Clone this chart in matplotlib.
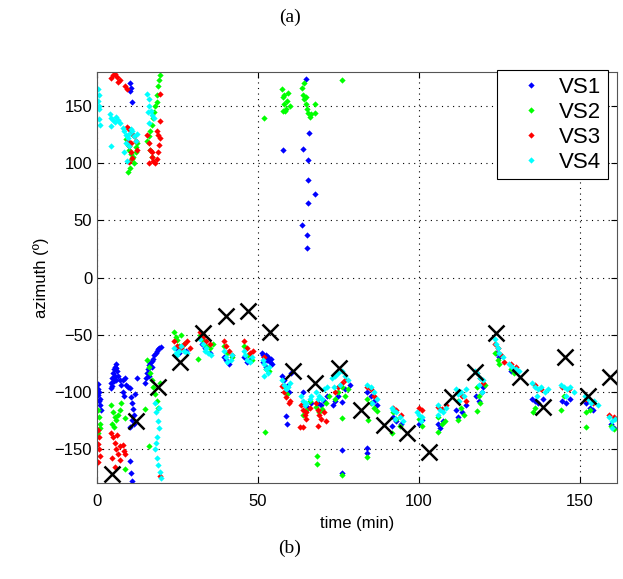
import matplotlib
matplotlib.use('Agg')
import matplotlib.pyplot as plt

plt.rcParams['font.family'] = ['Liberation Sans', 'DejaVu Sans']

# ---- data (time in min, azimuth in deg) ----
vs1_t = [10.2, 10.5, 10.4, 10.8, 57.7, 64.1, 64.9, 65.8, 65.6, 65.6, 67.7, 65.6, 63.6, 65.1, 65.1,
         0.2, 0.4, 0.3, 0.6, 0.8, 1.2, 0.5, 1.0,
         4.2, 4.5, 4.8, 5.0, 5.2, 5.5, 5.8, 6.0, 6.3, 5.6, 5.9, 6.5, 7.0, 7.4, 4.6, 5.3,
         8.2, 8.6, 9.0, 9.5, 8.0, 8.4,
         10.3, 10.6, 11.0, 11.2, 11.6, 10.8, 11.5, 10.4, 11.8, 12.3, 10.2, 10.5, 10.8,
         14.9, 15.2, 15.5, 15.9, 16.3, 16.6, 17.0, 17.4, 17.8, 18.2, 18.6, 19.0, 19.4, 19.8, 16.0, 17.2,
         24.5, 25.5, 27.5, 32.5, 33.5, 35, 40, 41, 39.5, 45.5, 46.5, 47.5,
         51.2, 51.6, 52.0, 52.4, 52.8, 53.2, 53.6, 54.0, 54.4, 51.5, 52.5,
         57.6, 58.2, 59.0, 59.6, 58.6, 58.9, 60.2,
         64, 64.5, 65.5, 66.5, 68.5, 69.5, 70.5, 71.5,
         73.2, 74, 75, 76, 76, 76, 77, 78.5,
         84, 85, 86, 87, 83.7, 83.7,
         92, 93, 94.5, 91.5, 100, 101, 105.8, 106.5, 107.5,
         111.5, 112.2, 113.5, 114.5, 117.8, 118.5, 119.5, 120,
         124, 125, 128.5, 135.2, 136, 137, 138.5, 144.5, 145.5, 146.8,
         152, 153, 154, 159.5, 160.5]
vs1_az = [170, 166, 163, 154, 112, 113, 174, 127, 103, 85, 73, 65, 46, 37, 26,
          -93, -98, -103, -108, -112, -116, -100, -106,
          -97, -92, -88, -84, -80, -78, -76, -79, -82, -86, -90, -86, -90, -94, -95, -91,
          -90, -88, -94, -96, -100, -104,
          -97, -105, -110, -115, -120, -125, -128, -131, -102, -88, -161, -171, -178,
          -92, -88, -84, -80, -77, -75, -73, -71, -68, -66, -64, -63, -62, -61, -86, -78,
          -62, -66, -64, -58, -62, -66, -72, -76, -70, -70, -74, -72,
          -66, -68, -70, -68, -72, -70, -74, -71, -76, -74, -78,
          -86, -90, -95, -100, -121, -128, -84,
          -100, -112, -114, -110, -110, -112, -108, -104,
          -112, -108, -104, -109, -151, -171, -98, -94,
          -100, -104, -108, -112, -149, -154,
          -122, -126, -128, -130, -128, -125, -128, -132, -126,
          -116, -122, -118, -112, -104, -108, -100, -96,
          -66, -70, -82, -106, -108, -110, -106, -108, -110, -106,
          -110, -114, -116, -128, -132]

vs2_t = [9.0, 9.5, 10, 10.5, 11, 11.5, 12, 12.3, 10.2, 9.6, 11.2, 12.2,
         15.5, 16, 16.5, 17, 17.5, 18, 18.5, 18.8, 19.2, 19.5, 16.5, 17, 18.6, 17.8,
         51.9,
         57.3, 57.8, 58.2, 58.6, 59, 59.4, 58.5, 57.8, 59.8, 58,
         63.6, 64, 64.4, 64.8, 65.2, 65.6, 66, 66.4, 65, 64.2, 67.7, 67.7, 76,
         0.3, 0.5, 0.8, 1.0, 0.4,
         4.5, 5, 5.5, 6, 6.5, 7, 4.8, 5.2, 7.5, 8.7, 8.7,
         15.4, 16, 16.5, 17, 17.5, 18, 18.5, 19, 19.6, 16, 15,
         24, 24.5, 25, 26, 27, 25.5, 31.5,
         32, 33, 34, 35, 36, 39.5, 40.5, 42, 45.5, 47, 48,
         52.5, 53.5, 52.2, 58, 59, 64, 65, 66,
         68, 69, 70, 71, 72, 68.2, 68.2,
         74, 75, 76, 77, 78, 76, 76,
         84, 85, 86, 87, 84.3, 83.7,
         92, 93, 94, 91.5, 100, 101,
         106, 107, 108, 105.8, 112, 113, 114, 112,
         118, 118.5, 119, 118, 120.5, 123.5, 124.5, 125, 128.5, 129.5,
         136, 135.5, 145, 144.2, 152, 151.9, 153, 159.5, 160.5]
vs2_az = [121, 116, 112, 108, 104, 100, 110, 118, 96, 92, 106, 114,
          120, 124, 128, 134, 140, 150, 160, 168, 173, 177, 112, 106, 154, 145,
          140,
          165, 158, 152, 148, 155, 162, 146, 146, 150, 160,
          166, 160, 156, 152, 148, 144, 141, 143, 158, 170, 152, 144, 173,
          -116, -122, -128, -132, -136,
          -112, -118, -122, -125, -120, -116, -128, -131, -110, -123, -168,
          -72, -78, -84, -90, -96, -102, -108, -114, -92, -148, -115,
          -48, -52, -55, -50, -58, -60, -71,
          -50, -55, -60, -62, -58, -60, -66, -70, -60, -68, -72,
          -80, -82, -135, -95, -102, -120, -116, -108,
          -113, -118, -115, -110, -104, -156, -163,
          -106, -100, -96, -104, -98, -123, -173,
          -106, -110, -114, -117, -125, -157,
          -118, -124, -130, -136, -124, -130,
          -122, -128, -126, -135, -108, -114, -120, -125,
          -96, -104, -110, -117, -94, -66, -72, -76, -80, -84,
          -114, -118, -104, -116, -118, -131, -116, -130, -133]

vs3_t = [4.2, 5, 5.6, 6.2, 6.5, 7.2, 8.7, 9.3,
         9.3, 10, 10.5, 11, 11.5, 12, 10, 10.5, 11, 9.8, 12.3, 9.5, 10.5,
         15.5, 16, 16.5, 17, 17.5, 18, 18.5, 19, 19.3, 19.5, 18.5, 16, 19.6, 19.6, 17.2, 18.8,
         0.3, 0.5, 0.4, 0.6, 0.8, 0.3,
         4.5, 5, 5.5, 6, 6.5, 7, 4.8, 5.6, 6.2, 7.1, 8, 8.5, 8.7, 19.6,
         24, 25, 26, 27, 28, 29, 32, 33, 34, 35,
         39.5, 40.2, 41, 42, 45.5, 46.5, 47.5, 48.3, 52,
         57.6, 58.2, 58.8, 59.5, 60, 63,
         63.5, 64, 64.5, 65, 66, 63.9, 64.8,
         68, 68.5, 69, 69.5, 70.5, 71, 68.5,
         74, 75, 76, 77, 84, 85, 86,
         92, 93, 94.5, 100, 101, 106, 107, 108.5,
         112, 113.5, 114.5, 118, 119, 120,
         123.5, 124.5, 125.5, 126.5, 128.5, 130,
         136, 138, 144.5, 146.5, 152, 154, 159, 160.5]
vs3_az = [175, 177, 178, 176, 171, 173, 168, 165,
          132, 130, 128, 126, 124, 120, 115, 110, 105, 101, 112, 120, 118,
          125, 118, 112, 106, 102, 100, 104, 110, 116, 122, 128, 100, 161, 137, 110, 125,
          -134, -140, -146, -150, -156, -162,
          -136, -140, -145, -150, -155, -160, -158, -166, -138, -148, -147, -152, -155, -174,
          -56, -60, -62, -58, -56, -62, -48, -52, -56, -58,
          -56, -60, -64, -68, -56, -62, -66, -64, -70,
          -95, -100, -105, -110, -108, -131,
          -112, -116, -120, -118, -114, -131, -124,
          -110, -116, -120, -124, -118, -126, -130,
          -100, -96, -92, -90, -96, -98, -104,
          -114, -116, -120, -114, -116, -113, -115, -112,
          -100, -104, -108, -84, -88, -92,
          -58, -62, -68, -74, -76, -78,
          -94, -98, -96, -98, -106, -110, -120, -122]

vs4_t = [0.4, 0.5, 0.3, 0.6, 0.5, 0.6, 0.8,
         4, 4.5, 5, 5.5, 6, 6.5, 7, 4.2, 4.5,
         8, 8.5, 9, 9.5, 10, 10.5, 11, 11.5, 12, 12.4, 9, 10, 9.2, 8.4,
         15.5, 16, 16.3, 16.8, 17.2, 17.6, 16.2, 15.8,
         18, 18.4, 18.8, 19.2, 18.5, 18, 18.6, 19, 19.5, 19.8, 18.2, 19.4,
         24, 24.5, 25, 25.5, 26, 27, 28,
         32, 33, 34, 34.5, 35.5, 33.5,
         39.5, 40, 40.5, 41.5, 42, 45.5, 46, 46.5, 47.5, 48,
         51.5, 52, 52.5, 53, 53.5, 52,
         57.6, 58.2, 58.8, 59.4, 60,
         63.5, 64, 64.5, 65, 66, 66.5,
         68, 69, 70, 70.5, 71.5, 68.5,
         73, 74, 75, 76, 77, 78, 73.5, 75.5,
         84, 85, 86, 87, 85.5,
         91.5, 92, 93, 94, 95, 92.5,
         99.5, 100, 101, 100.5,
         105.8, 106.5, 107.5, 108.5, 106,
         111.5, 112, 113, 114, 114.5, 112.5,
         117.5, 118, 119, 120, 118.5, 119.5,
         123.5, 124, 124.5, 125, 126,
         128, 129, 130, 131,
         135, 136, 137, 138, 139, 140, 136.5,
         144, 145, 146, 147, 148, 145.5,
         151.5, 152.5, 153.5, 154.5, 155.5,
         159, 160, 161, 160]
vs4_az = [165, 160, 155, 150, 148, 139, 134,
          143, 140, 138, 136, 141, 138, 135, 133, 115,
          131, 128, 125, 122, 126, 130, 128, 124, 120, 126, 118, 115, 102, 110,
          161, 156, 150, 146, 142, 140, 135, 145,
          -110, -118, -126, -132, -140, -150, -158, -164, -170, -176, -145, -114,
          -62, -66, -68, -64, -60, -64, -66,
          -54, -58, -62, -66, -68, -64,
          -64, -70, -74, -72, -68, -64, -68, -72, -74, -70,
          -72, -76, -80, -84, -78, -86,
          -90, -94, -98, -96, -92,
          -104, -108, -112, -110, -106, -104,
          -100, -104, -106, -98, -96, -106,
          -88, -86, -84, -82, -86, -90, -96, -94,
          -94, -96, -100, -106, -110,
          -114, -116, -118, -122, -126, -124,
          -118, -120, -122, -126,
          -112, -116, -118, -114, -120,
          -98, -102, -100, -104, -98, -108,
          -82, -84, -88, -90, -94, -100,
          -54, -58, -62, -66, -70,
          -76, -78, -80, -82,
          -92, -96, -98, -96, -100, -98, -104,
          -94, -96, -98, -96, -100, -104,
          -104, -106, -110, -108, -112,
          -122, -126, -124, -132]

# black crosses
ref_t = [4.8, 12.0, 19.0, 25.8, 32.8, 40.0, 46.9, 53.7, 61.0, 67.8, 75.2, 82.1,
         89.2, 96.2, 103.2, 110.2, 117.4, 123.9, 131.4, 138.4, 145.3, 152.6, 159.3]
ref_az = [-172, -126, -96, -74, -49, -34, -29, -48, -82, -92, -79, -116,
          -129, -136, -153, -105, -83, -49, -87, -113, -70, -104, -87]

fig = plt.figure(figsize=(6.23, 5.79), dpi=100)
ax = fig.add_axes([0.1557, 0.1658, 0.8347, 0.7098])

ms = 3.2
ax.plot(vs1_t, vs1_az, 'D', color='#0000ff', ms=ms, mew=0, label='VS1')
ax.plot(vs2_t, vs2_az, 'D', color='#00ff00', ms=ms, mew=0, label='VS2')
ax.plot(vs3_t, vs3_az, 'D', color='#ff0000', ms=ms, mew=0, label='VS3')
ax.plot(vs4_t, vs4_az, 'D', color='#00ffff', ms=ms, mew=0, label='VS4')
ax.plot(ref_t, ref_az, 'x', color='black', ms=11, mew=1.8)

ax.set_xlim(0, 161.5)
ax.set_ylim(-180, 180)
ax.set_xticks([0, 50, 100, 150])
ax.set_yticks([-150, -100, -50, 0, 50, 100, 150])
ax.grid(True, color='black', linestyle=(0, (1, 4)), linewidth=0.8)
ax.tick_params(direction='in', labelsize=12, length=4, top=True, right=True)
ax.tick_params(axis='x', pad=8)
for s in ax.spines.values():
    s.set_color('#555555')
ax.set_xlabel('time (min)', fontsize=12, labelpad=5)
ax.set_ylabel('azimuth (º)', fontsize=12, labelpad=4)

leg = ax.legend(loc='upper right', bbox_to_anchor=(0.976, 0.879), bbox_transform=fig.transFigure,
                fontsize=16, fancybox=False, edgecolor='black', framealpha=1, markerscale=1.0,
                handlelength=2.5, borderpad=0.3, labelspacing=0.18, handletextpad=0.0,
                borderaxespad=0)
leg.get_frame().set_linewidth(0.8)

fig.text(0.465, 0.97, '(a)', ha='center', va='center', fontsize=14, family='Liberation Serif')
fig.text(0.465, 0.053, '(b)', ha='center', va='center', fontsize=14, family='Liberation Serif')

fig.savefig('out.png', dpi=100)
